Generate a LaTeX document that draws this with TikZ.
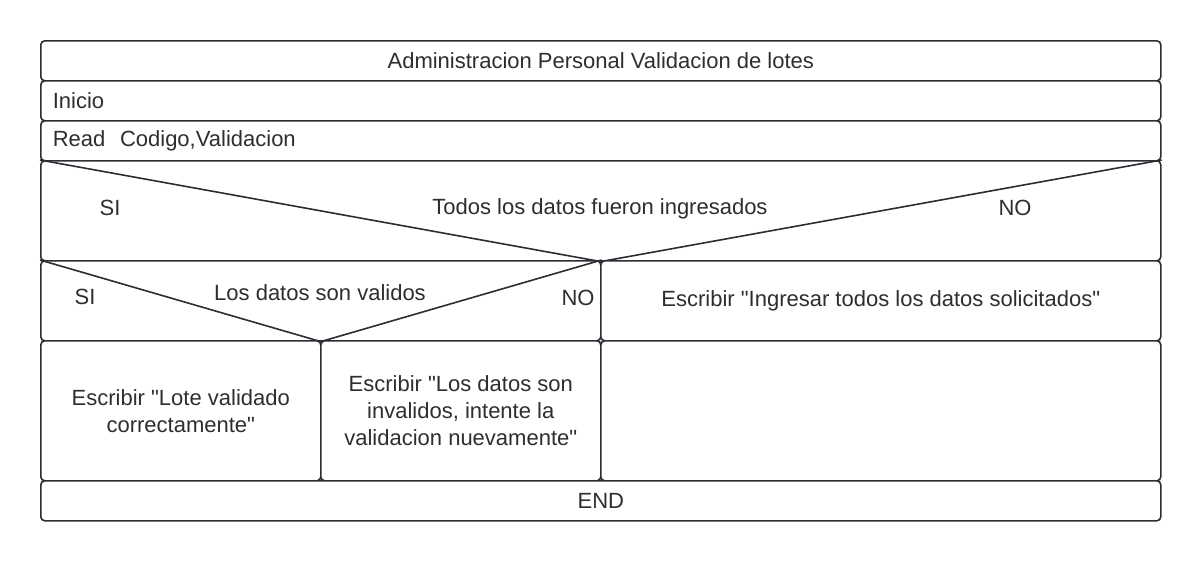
\documentclass[tikz,border=0pt]{standalone}
\usepackage{fontspec}
\setmainfont{Liberation Sans}
\usetikzlibrary{positioning}
\definecolor{ink}{HTML}{2B2E33}
\definecolor{txt}{HTML}{2E2E2E}

\begin{document}
\begin{tikzpicture}[x=1pt, y=-1pt, font=\fontsize{22}{27}\selectfont,
  cell/.style={draw=ink, line width=1.6pt, rounded corners=4pt, anchor=north west,
    inner sep=0pt, text=txt, fill=white},
  leftcell/.style={cell, align=left, inner xsep=12pt, text width=1096pt},
  lbl/.style={text=txt, inner sep=0pt},
  edge/.style={draw=ink, line width=1.6pt, line join=round}]
  \useasboundingbox (0,0) rectangle (1200,560);

  % header rows
  \node[cell, minimum width=1120pt, minimum height=40pt] (title) at (40,40) {Administracion Personal Validacion de lotes};
  \node[leftcell, minimum height=40pt] (inicio) at (40,80) {Inicio};
  \node[leftcell, minimum height=40pt] (leer) at (40,120) {Read\ \ Codigo,Validacion};

  % first decision
  \node[cell, minimum width=1120pt, minimum height=100pt] (cond1) at (40,160) {};
  \draw[edge] (cond1.north west) -- (cond1.south) -- (cond1.north east);
  \node[lbl] (si1) at (110,208) {SI};
  \node[lbl] (q1) at (600,209) {Todos los datos fueron ingresados};
  \node[lbl] (no1) at (1015,208) {NO};

  % second decision
  \node[cell, minimum width=560pt, minimum height=80pt] (cond2) at (40,260) {};
  \draw[edge] (cond2.north west) -- (cond2.south) -- (cond2.north east);
  \node[lbl] (si2) at (85,297) {SI};
  \node[lbl] (q2) at (320,293) {Los datos son validos};
  \node[lbl] (no2) at (578,298) {NO};
  \node[cell, minimum width=560pt, minimum height=80pt] (msg1) at (600,260) {Escribir \textquotedbl Ingresar todos los datos solicitados\textquotedbl};

  % outputs
  \node[cell, minimum width=280pt, minimum height=140pt, align=center] (ok) at (40,340) {Escribir \textquotedbl Lote validado\\correctamente\textquotedbl};
  \node[cell, minimum width=280pt, minimum height=140pt, align=center] (bad) at (320,340) {Escribir \textquotedbl Los datos son\\invalidos, intente la\\validacion nuevamente\textquotedbl};
  \node[cell, minimum width=560pt, minimum height=140pt] (blank) at (600,340) {};

  \node[cell, minimum width=1120pt, minimum height=40pt] (fin) at (40,480) {END};
\end{tikzpicture}
\end{document}
